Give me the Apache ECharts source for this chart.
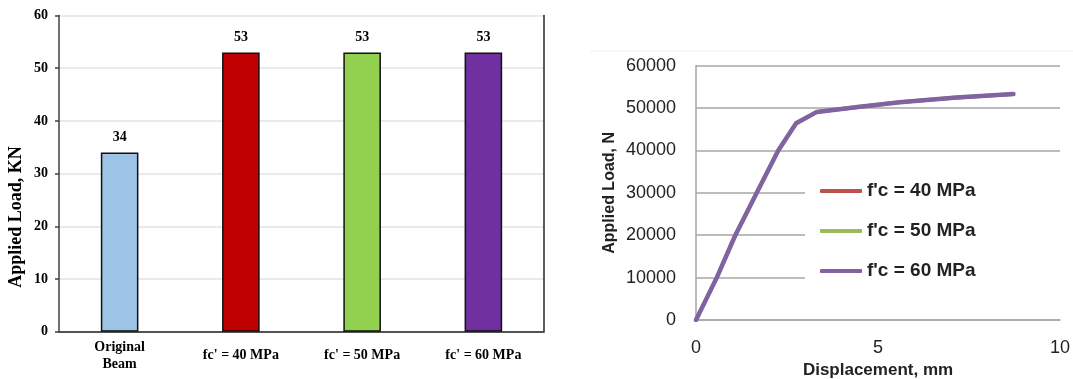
<!DOCTYPE html>
<html>
<head>
<meta charset="utf-8">
<script src="https://cdn.jsdelivr.net/npm/echarts@6/dist/echarts.min.js"></script>
<style>
  html, body { margin: 0; padding: 0; background: #fff; }
  #chart { width: 1073px; height: 379px; }
</style>
</head>
<body>
<div id="chart"></div>
<script>
// Ultimate load of each beam (bar chart, kN)
const beamCategories = ['Original\nBeam', "fc' = 40 MPa", "fc' = 50 MPa", "fc' = 60 MPa"];
const ultimateLoadKN = [34, 53, 53, 53];
const beamColors = ['#9dc3e6', '#c00000', '#92d050', '#7030a0'];

// Load–displacement curves (line chart, N vs mm)
const curveNames = ["f'c = 40 MPa", "f'c = 50 MPa", "f'c = 60 MPa"];
const displacementMm = [0, 0.57, 1.08, 1.67, 2.26, 2.75, 3.32, 4.5, 5.6, 7.16, 8.72];
const load40N = [0, 9950, 19950, 30100, 40000, 46350, 49050, 50250, 51350, 52450, 53280];
const load50N = [0, 10050, 20050, 30050, 40050, 46450, 49150, 50350, 51450, 52550, 53320];
const load60N = [0, 10000, 20000, 30000, 40000, 46400, 49100, 50300, 51400, 52500, 53300];
const curveColors = ['#c0504d', '#9bbb59', '#8064a2'];

const pairs = (xs, ys) => xs.map((x, i) => [x, ys[i]]);

const serif = 'Liberation Serif';
const sans = 'Liberation Sans';

const chart = echarts.init(document.getElementById('chart'), null, { renderer: 'canvas' });

chart.setOption({
  animation: false,
  backgroundColor: '#fff',
  grid: [
    { left: 59, right: 529, top: 15.5, bottom: 47.3, containLabel: false, outerBoundsMode: 'none' },
    { left: 696, right: 13, top: 65.7, bottom: 59, containLabel: false, outerBoundsMode: 'none' }
  ],
  xAxis: [
    {
      gridIndex: 0, type: 'category', data: beamCategories, position: 'bottom',
      axisLine: { lineStyle: { color: '#d9d9d9', width: 1.5 } },
      axisTick: { show: false },
      axisLabel: {
        color: '#000', fontFamily: serif, fontWeight: 'bold', fontSize: 14,
        lineHeight: 17, margin: 24, verticalAlign: 'middle', interval: 0
      }
    },
    {
      gridIndex: 0, type: 'category', data: beamCategories, position: 'top',
      axisLine: { lineStyle: { color: '#262626', width: 1.5 } },
      axisTick: { show: false }, axisLabel: { show: false }
    },
    {
      gridIndex: 1, type: 'value', min: 0, max: 10, interval: 5,
      axisLine: { show: true, lineStyle: { color: '#a6a6a6', width: 1.5 } },
      axisTick: { show: false },
      splitLine: { show: false },
      axisLabel: { color: '#222', fontFamily: sans, fontSize: 18, margin: 19 },
      name: 'Displacement, mm', nameLocation: 'middle', nameGap: 41,
      nameTextStyle: { color: '#222', fontFamily: sans, fontWeight: 'bold', fontSize: 17 }
    }
  ],
  yAxis: [
    {
      gridIndex: 0, type: 'value', min: 0, max: 60, interval: 10,
      axisLine: { show: true, lineStyle: { color: '#404040', width: 1.5 } },
      axisTick: { show: true, inside: false, length: 4, lineStyle: { color: '#404040', width: 1.5 } },
      splitLine: { lineStyle: { color: '#e3e3e3', width: 1.5 } },
      axisLabel: { color: '#000', fontFamily: serif, fontWeight: 'bold', fontSize: 14, margin: 11 }
    },
    {
      gridIndex: 0, type: 'value', min: 0, max: 60, interval: 10, position: 'right',
      axisLine: { show: true, lineStyle: { color: '#262626', width: 1.5 } },
      axisTick: { show: false }, axisLabel: { show: false }, splitLine: { show: false }
    },
    {
      gridIndex: 1, type: 'value', min: 0, max: 60000, interval: 10000,
      axisLine: { show: true, lineStyle: { color: '#a6a6a6', width: 1.5 } },
      axisTick: { show: false },
      splitLine: { lineStyle: { color: '#a6a6a6', width: 1.5 } },
      axisLabel: {
        color: '#222', fontFamily: sans, fontSize: 18, margin: 20,
        formatter: (v) => String(v)
      },
      name: 'Applied Load, N', nameLocation: 'middle', nameGap: 78,
      nameTextStyle: { color: '#222', fontFamily: sans, fontWeight: 'bold', fontSize: 16 }
    }
  ],
  legend: {
    data: curveNames,
    orient: 'vertical',
    left: 805, top: 166,
    padding: [15, 95, 15, 15],
    backgroundColor: '#fff',
    icon: 'roundRect',
    itemWidth: 42, itemHeight: 4,
    itemGap: 20,
    textStyle: { color: '#222', fontFamily: sans, fontWeight: 'bold', fontSize: 19, lineHeight: 20 }
  },
  graphic: [
    {
      type: 'text', x: 16, y: 217, rotation: Math.PI / 2,
      style: {
        text: 'Applied Load, KN', fill: '#000',
        font: 'bold 18px "Liberation Serif"', align: 'center', verticalAlign: 'middle'
      }
    },
    {
      type: 'line', shape: { x1: 590, y1: 51, x2: 1073, y2: 51 },
      style: { stroke: '#f0f0f0', lineWidth: 1 }
    }
  ],
  series: [
    {
      type: 'bar', xAxisIndex: 0, yAxisIndex: 0, barWidth: '31%',
      data: ultimateLoadKN.map((v, i) => ({
        value: v,
        itemStyle: { color: beamColors[i], borderColor: '#111', borderWidth: 1.5 }
      })),
      label: {
        show: true, position: 'top', distance: 8,
        color: '#000', fontFamily: serif, fontWeight: 'bold', fontSize: 14
      }
    },
    {
      name: curveNames[0], type: 'line', xAxisIndex: 2, yAxisIndex: 2,
      data: pairs(displacementMm, load40N), showSymbol: false, symbol: 'none',
      lineStyle: { color: curveColors[0], width: 3.5, cap: 'round', join: 'round' },
      itemStyle: { color: curveColors[0] }
    },
    {
      name: curveNames[1], type: 'line', xAxisIndex: 2, yAxisIndex: 2,
      data: pairs(displacementMm, load50N), showSymbol: false, symbol: 'none',
      lineStyle: { color: curveColors[1], width: 3.5, cap: 'round', join: 'round' },
      itemStyle: { color: curveColors[1] }
    },
    {
      name: curveNames[2], type: 'line', xAxisIndex: 2, yAxisIndex: 2,
      data: pairs(displacementMm, load60N), showSymbol: false, symbol: 'none',
      lineStyle: { color: curveColors[2], width: 4.5, cap: 'round', join: 'round' },
      itemStyle: { color: curveColors[2] }
    }
  ]
});
</script>
</body>
</html>
